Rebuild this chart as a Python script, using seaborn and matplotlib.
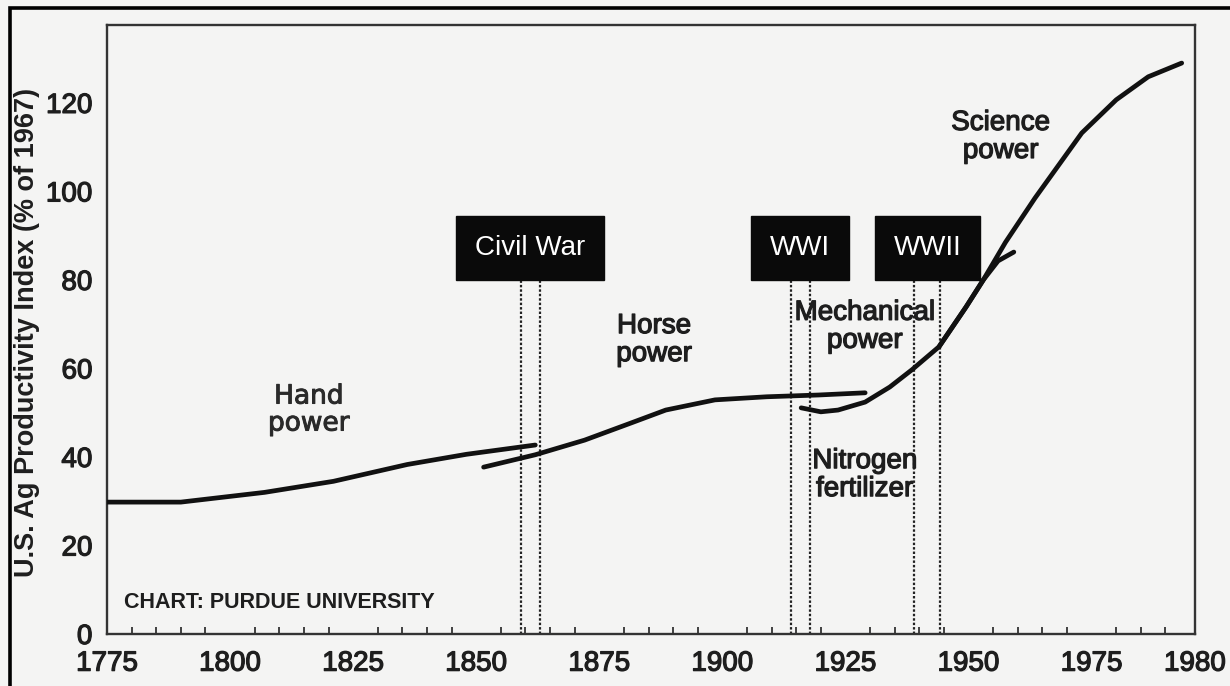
import matplotlib
matplotlib.use("Agg")
import matplotlib.pyplot as plt
from matplotlib.patches import Rectangle
import matplotlib.patheffects as pe
import numpy as np
import pandas as pd
import seaborn as sns

# ---- data ----
hand_years = [1775, 1790, 1807, 1821, 1836, 1848, 1862]
hand_index = [29.8, 29.8, 32.0, 34.5, 38.3, 40.6, 42.7]

horse_years = [1851.5, 1862, 1872, 1881.5, 1888.5, 1898.5, 1909, 1919.5, 1929]
horse_index = [37.7, 40.5, 43.8, 47.7, 50.6, 52.9, 53.6, 54.0, 54.5]

mech_years = [1916, 1920, 1923.5, 1929, 1934, 1938.5, 1944, 1949.5, 1953, 1956, 1959.2]
mech_index = [51.1, 50.2, 50.6, 52.4, 55.8, 59.7, 64.9, 73.9, 80.0, 84.3, 86.3]

science_years = [1944, 1949.5, 1953, 1957.5, 1963.5, 1973, 1980, 1986.5, 1993.3]
science_index = [64.9, 73.9, 80.0, 88.5, 98.5, 113.2, 120.7, 125.9, 129.0]

event_names = ["Civil War", "WWI", "WWII"]
event_start = [1859, 1914, 1939]
event_end = [1863, 1917.7, 1944.3]
event_top = 80

era_labels = ["Horse\npower", "Mechanical\npower", "Nitrogen\nfertilizer", "Science\npower"]
era_x = [1886.1, 1928.9, 1928.9, 1956.5]
era_y = [66.4, 69.4, 35.9, 112.3]

hand_label = "Hand\npower"
hand_label_xy = (1816, 50.6)

x_tick_pos = [1775, 1800, 1825, 1850, 1875, 1900, 1925, 1950, 1975, 1996]
x_tick_labels = ["1775", "1800", "1825", "1850", "1875", "1900", "1925", "1950", "1975", "1980"]
y_ticks = [0, 20, 40, 60, 80, 100, 120]

ylabel = "U.S. Ag Productivity Index (% of 1967)"
credit = "CHART: PURDUE UNIVERSITY"

# ---- style ----
sns.set_theme(style="white")
plt.rcParams["font.family"] = ["Liberation Sans", "DejaVu Sans"]
bg = "#f4f4f3"
ink = "#1e1e1e"
heavy = [pe.withStroke(linewidth=0.9, foreground=ink)]

fig = plt.figure(figsize=(12.3, 6.86), dpi=100, facecolor=bg)
W, H = 1230, 686
ax = fig.add_axes([107 / W, 1 - 634 / H, (1195 - 107) / W, (634 - 25) / H])
ax.set_facecolor(bg)

# event dotted lines
for s, e in zip(event_start, event_end):
    ax.vlines([s, e], 0, event_top, colors="#222222", linestyles=(0, (1.1, 0.9)),
              linewidth=1.6, zorder=2)

# curves
segments = [(hand_years, hand_index), (horse_years, horse_index),
            (mech_years, mech_index), (science_years, science_index)]
for xs, ys in segments:
    df = pd.DataFrame({"year": xs, "index": ys})
    sns.lineplot(data=df, x="year", y="index", ax=ax, color="#111111",
                 linewidth=3.4, sort=False, zorder=3, solid_capstyle="round",
                 solid_joinstyle="round")

# event boxes
for name, s, e in zip(event_names, event_start, event_end):
    t = ax.text((s + e) / 2, 87.3, name, ha="center", va="center", color="white",
                fontsize=20, zorder=5,
                bbox=dict(boxstyle="square,pad=0.68", facecolor="#0a0a0a", edgecolor="#0a0a0a"))

for lab, x, y in zip(era_labels, era_x, era_y):
    ax.text(x, y, lab, ha="center", va="center", fontsize=20, color=ink,
            linespacing=1.1, zorder=4, path_effects=heavy)

ax.text(hand_label_xy[0], hand_label_xy[1], hand_label, ha="center", va="center",
        fontsize=19, color="#2a2a2a", family=["DejaVu Sans"], linespacing=1.05, zorder=4,
        path_effects=[pe.withStroke(linewidth=0.7, foreground="#2a2a2a")])

ax.text(1778.5, 7.1, credit, ha="left", va="center", fontsize=15.5,
        fontweight="bold", color=ink, zorder=4)

# axes
ax.set_xlim(1775, 1996)
ax.set_ylim(0, 137.6)
ax.set_xticks(x_tick_pos)
ax.set_xticklabels(x_tick_labels)
ax.set_xticks([y for y in range(1780, 1995, 5) if (y - 1775) % 25 != 0], minor=True)
ax.set_yticks(y_ticks)
ax.set_yticklabels([str(v) for v in y_ticks])
ax.set_xlabel("")
ax.set_ylabel(ylabel, fontsize=19.5, fontweight="bold", color=ink)
ax.yaxis.set_label_coords(-0.0735, 0.495)
ax.yaxis.label.set_va("center")

ax.tick_params(axis="both", which="major", direction="in", length=10, width=1.4,
               color="#333333", labelsize=20, labelcolor=ink)
ax.tick_params(axis="x", which="major", pad=12)
ax.tick_params(axis="y", which="major", pad=10.5)
ax.tick_params(axis="x", which="minor", direction="in", length=5, width=1.3,
               color="#333333", bottom=True)
for lbl in ax.get_xticklabels() + ax.get_yticklabels():
    lbl.set_path_effects(heavy)
for sp in ax.spines.values():
    sp.set_visible(True)
    sp.set_color("#333333")
    sp.set_linewidth(1.7)

# outer scan frame
fig.patches.append(Rectangle((10 / W, -0.05), 1.2, 1 - 8 / H + 0.05, transform=fig.transFigure,
                             fill=False, edgecolor="black", linewidth=2.6))

fig.savefig("out.png", dpi=100, facecolor=bg)
